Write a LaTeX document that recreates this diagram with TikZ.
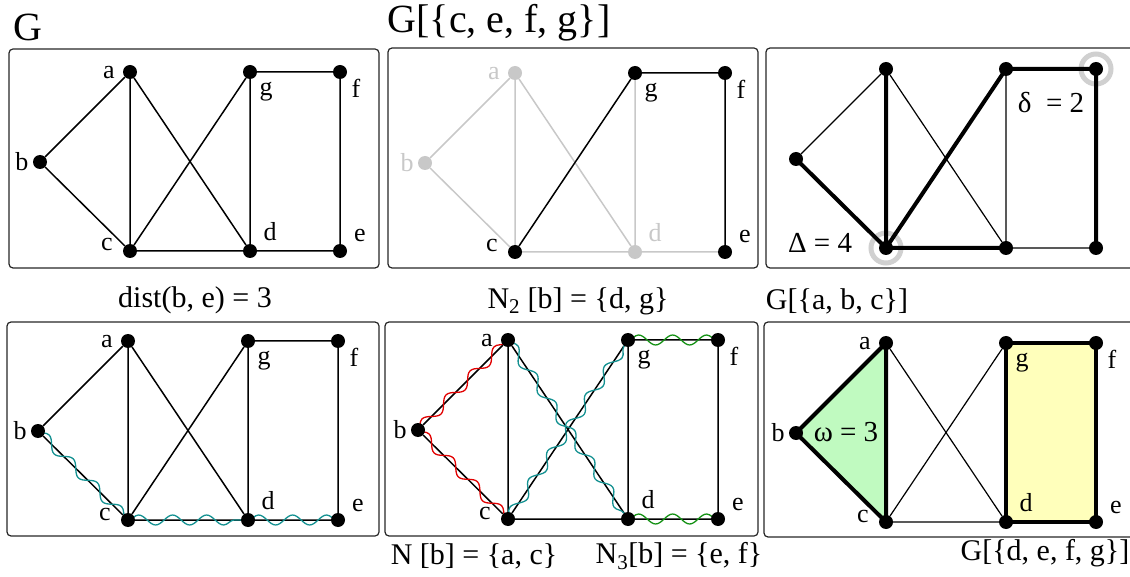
\documentclass[tikz,border=0pt]{standalone}
\usepackage{fontspec}
\setmainfont{Liberation Serif}
\usetikzlibrary{decorations.pathmorphing}
\pgfdeclarelayer{fills}
\pgfdeclarelayer{bg}
\pgfsetlayers{fills,bg,main}
\definecolor{lgray}{RGB}{200,200,200}
\definecolor{ringgray}{RGB}{208,208,208}
\definecolor{wteal}{RGB}{20,145,145}
\definecolor{wred}{RGB}{225,0,0}
\definecolor{wgreen}{RGB}{20,145,20}
\definecolor{cliquefill}{RGB}{192,250,192}
\definecolor{rectfill}{RGB}{255,255,187}
\tikzset{
  dot/.style={circle, fill=black, inner sep=0pt, minimum size=14pt},
  gdot/.style={dot, fill=lgray},
  ln/.style={line width=1.5pt, draw=black},
  gln/.style={line width=1.5pt, draw=lgray},
  tln/.style={line width=1.2pt, draw=black},
  bln/.style={line width=4pt, draw=black},
  panel/.style={draw=black!85, line width=1.2pt, rounded corners=4pt},
  lbl/.style={font=\fontsize{26}{30}\selectfont, inner sep=0pt},
  captext/.style={font=\fontsize{30}{34}\selectfont, inner sep=0pt},
  titletext/.style={font=\fontsize{40}{46}\selectfont, inner sep=0pt},
  greektext/.style={font=\fontsize{29}{33}\selectfont, inner sep=0pt},
  wave/.style={decorate, decoration={snake, amplitude=5pt, segment length=34pt}, line width=1.3pt},
  ring/.style={draw=ringgray, line width=5pt},
}
\newcommand\mkgraph[4]{%
  \begin{scope}[shift={(#2,#3)}]
    \node[#4] (#1a) at (0,0) {};
    \node[#4] (#1b) at (-90,90) {};
    \node[dot] (#1c) at (0,179) {};
    \node[dot] (#1g) at (120,0) {};
    \node[dot] (#1f) at (210,0) {};
    \node[#4] (#1d) at (120,179) {};
    \node[dot] (#1e) at (210,179) {};
  \end{scope}}
\newcommand\mklabels[2]{%
  \node[lbl,text=#2] (#1la) at ([shift={(-21,1)}]#1a.center) {a};
  \node[lbl,text=#2] (#1lb) at ([shift={(-18,0)}]#1b.center) {b};
  \node[lbl] (#1lc) at ([shift={(-23,-6)}]#1c.center) {c};
  \node[lbl] (#1lg) at ([shift={(16,20)}]#1g.center) {g};
  \node[lbl] (#1lf) at ([shift={(16,16)}]#1f.center) {f};
  \node[lbl,text=#2] (#1ld) at ([shift={(20,-19)}]#1d.center) {d};
  \node[lbl] (#1le) at ([shift={(20,-15)}]#1e.center) {e};}
\begin{document}
\begin{tikzpicture}[x=1pt,y=-1pt]
\useasboundingbox (0,0) rectangle (1130,577);
\clip (0,0) rectangle (1130,577);

% titles
\node[titletext] (tG) at (28,27) {G};
\node[titletext] (tGs) at (499,23) {G[\{c, e, f, g\}]};
\node[captext] (cdist) at (195,300) {dist(b, e) = 3};
\node[captext] (cN2) at (578,301) {N\textsubscript{2} [b] = \{d, g\}};
\node[captext] (cabc) at (837,301) {G[\{a, b, c\}]};
\node[captext] (cN1) at (474,556) {N [b] = \{a, c\}};
\node[captext] (cN3) at (679,556) {N\textsubscript{3}[b] = \{e, f\}};
\node[captext] (cdefg) at (1045,553) {G[\{d, e, f, g\}]};

% frames
\draw[panel] (9,49) rectangle (379,268);
\draw[panel] (388,48) rectangle (758,268);
\draw[panel] (766,48) rectangle (1150,268);
\draw[panel] (7,322) rectangle (379,536);
\draw[panel] (385,322) rectangle (758,536);
\draw[panel] (764,322) rectangle (1150,537);

% ---------- panel 1 ----------
\mkgraph{p}{130}{72}{dot}
\mklabels{p}{black}
\begin{pgfonlayer}{bg}
\draw[ln] (pa)--(pb) (pb)--(pc) (pa)--(pc) (pa)--(pd) (pc)--(pg) (pc)--(pd)
  (pg)--(pd) (pg)--(pf) (pf)--(pe) (pd)--(pe);
\end{pgfonlayer}

% ---------- panel 2 ----------
\mkgraph{q}{515}{73}{gdot}
\mklabels{q}{lgray}
\begin{pgfonlayer}{bg}
\draw[gln] (qa)--(qb) (qb)--(qc) (qa)--(qc) (qa)--(qd) (qc)--(qd) (qg)--(qd) (qd)--(qe);
\draw[ln] (qc)--(qg) (qg)--(qf) (qf)--(qe);
\end{pgfonlayer}

% ---------- panel 3 ----------
\mkgraph{r}{886}{69}{dot}
\begin{pgfonlayer}{bg}
\draw[ring] (rc.center) circle[radius=15pt];
\draw[ring] (rf.center) circle[radius=15pt];
\draw[tln] (ra)--(rb) (ra)--(rd) (rg)--(rd) (rd)--(re);
\draw[bln] (rb.center)--(rc.center) (ra.center)--(rc.center) (rc.center)--(rg.center)
  (rc.center)--(rd.center) (rg.center)--(rf.center) (rf.center)--(re.center);
\end{pgfonlayer}
\node[greektext] (delta) at (1051,103) {δ\ \ = 2};
\node[greektext] (Delta) at (820,243) {Δ = 4};

% ---------- panel 4 ----------
\mkgraph{s}{128}{341}{dot}
\mklabels{s}{black}
\begin{pgfonlayer}{bg}
\draw[ln] (sa)--(sb) (sb)--(sc) (sa)--(sc) (sa)--(sd) (sc)--(sg) (sc)--(sd)
  (sg)--(sd) (sg)--(sf) (sf)--(se) (sd)--(se);
\draw[wave, wteal] (sb.center)--(sc.center);
\draw[wave, wteal] (sc.center)--(sd.center);
\draw[wave, wteal] (sd.center)--(se.center);
\end{pgfonlayer}

% ---------- panel 5 ----------
\mkgraph{u}{508}{340}{dot}
\mklabels{u}{black}
\begin{pgfonlayer}{bg}
\draw[ln] (ua)--(ub) (ub)--(uc) (ua)--(uc) (ua)--(ud) (uc)--(ug) (uc)--(ud)
  (ug)--(ud) (ug)--(uf) (uf)--(ue) (ud)--(ue);
\draw[wave, wred] (ub.center)--(ua.center);
\draw[wave, wred] (ub.center)--(uc.center);
\draw[wave, wteal] (ua.center)--(ud.center);
\draw[wave, wteal] (uc.center)--(ug.center);
\draw[wave, wgreen] (ug.center)--(uf.center);
\draw[wave, wgreen] (ud.center)--(ue.center);
\end{pgfonlayer}

% ---------- panel 6 ----------
\mkgraph{v}{886}{343}{dot}
\mklabels{v}{black}
\begin{pgfonlayer}{fills}
\fill[cliquefill] (va.center)--(vb.center)--(vc.center)--cycle;
\fill[rectfill] (vg.center)--(vf.center)--(ve.center)--(vd.center)--cycle;
\end{pgfonlayer}
\begin{pgfonlayer}{bg}
\draw[tln] (va)--(vd) (vc)--(vg) (vc)--(vd);
\draw[bln, line join=round] (va.center)--(vb.center)--(vc.center)--cycle;
\draw[bln, line join=round] (vg.center)--(vf.center)--(ve.center)--(vd.center)--cycle;
\end{pgfonlayer}
\node[greektext] (omega) at (846,432) {ω = 3};
\end{tikzpicture}
\end{document}
